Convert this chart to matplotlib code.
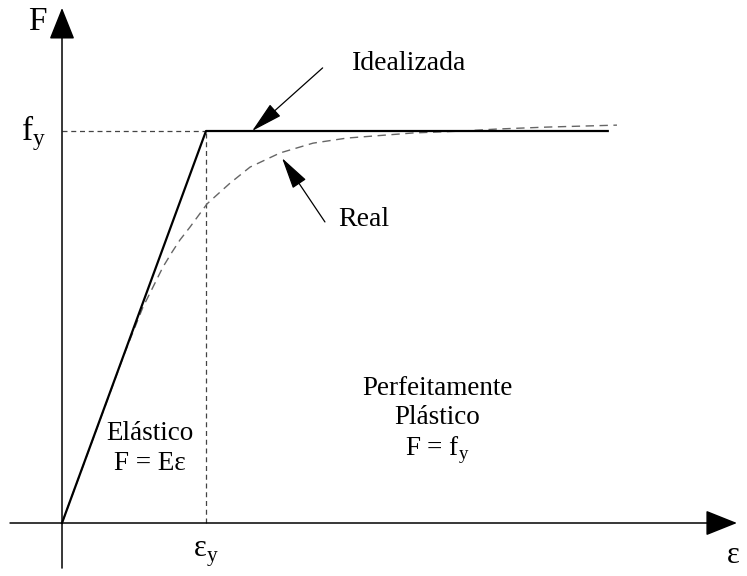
import matplotlib.pyplot as plt

plt.rcParams['font.family'] = ['Liberation Serif', 'DejaVu Serif']

# idealised elastic-perfectly plastic curve (eps in units of eps_y, F in units of fy)
ideal_eps = [0.0, 1.0, 3.79]
ideal_F = [0.0, 1.0, 1.0]

# real curve
real_eps = [0.0, 0.264, 0.4375, 0.5625, 0.632, 0.701, 0.764, 0.819, 0.889,
            1.007, 1.076, 1.167, 1.306, 1.514, 1.743, 1.979, 2.438, 2.785,
            3.021, 3.368, 3.854]
real_F = [0.0, 0.263, 0.436, 0.551, 0.602, 0.653, 0.691, 0.722, 0.755,
          0.814, 0.837, 0.867, 0.908, 0.944, 0.969, 0.982, 0.995, 1.0,
          1.005, 1.010, 1.015]

eps_y = 1.0
fy = 1.0

fig = plt.figure(figsize=(7.47, 5.76), dpi=100)
ax = fig.add_axes([0, 0, 1, 1])
ax.set_xlim(-0.4306, 4.757)
ax.set_ylim(-0.1352, 1.3342)
ax.axis('off')

# axes with arrow heads
big = dict(arrowstyle='-|>,head_length=1.0,head_width=0.4', lw=1.1,
           color='black', mutation_scale=20, shrinkA=0, shrinkB=0)
ax.annotate('', xy=(4.6875, 0), xytext=(-0.361, 0), arrowprops=big)
ax.annotate('', xy=(0, 1.314), xytext=(0, -0.115), arrowprops=big)

# guide lines to yield point
ax.plot([0, eps_y], [fy, fy], ls=(0, (4, 3)), color='#444444', lw=0.9)
ax.plot([eps_y, eps_y], [0, fy], ls=(0, (4, 3)), color='#444444', lw=0.9)

# curves
ax.plot(real_eps, real_F, ls=(0, (6, 4)), color='#666666', lw=1.0)
ax.plot(ideal_eps, ideal_F, color='black', lw=1.6)

# pointer arrows
small = dict(arrowstyle='-|>,head_length=1.0,head_width=0.25', lw=0.9,
             color='black', mutation_scale=20, shrinkA=0, shrinkB=0)
ax.annotate('', xy=(1.32, 1.0), xytext=(1.81, 1.161), arrowprops=small)
ax.annotate('', xy=(1.528, 0.931), xytext=(1.826, 0.768), arrowprops=small)

ax.text(2.413, 1.173, 'Idealizada', fontsize=20, ha='center', va='center')
ax.text(2.097, 0.773, 'Real', fontsize=20, ha='center', va='center')

ax.text(-0.17, 1.278, 'F', fontsize=24, ha='center', va='center')
ax.text(-0.2, 0.995, r'f$_\mathregular{y}$', fontsize=24, ha='center', va='center')
ax.text(eps_y, -0.08, r'ε$_\mathregular{y}$', fontsize=22, ha='center', va='center')
ax.text(4.66, -0.083, 'ε', fontsize=22, ha='center', va='center')

ax.text(0.61, 0.19, 'Elástico\nF = Eε', fontsize=19.5, ha='center',
        va='center', linespacing=1.25)
ax.text(2.608, 0.26, 'Perfeitamente\nPlástico\n' + r'F = f$_\mathregular{y}$',
        fontsize=19.5, ha='center', va='center', linespacing=1.2)

fig.savefig('out.png', dpi=100)
